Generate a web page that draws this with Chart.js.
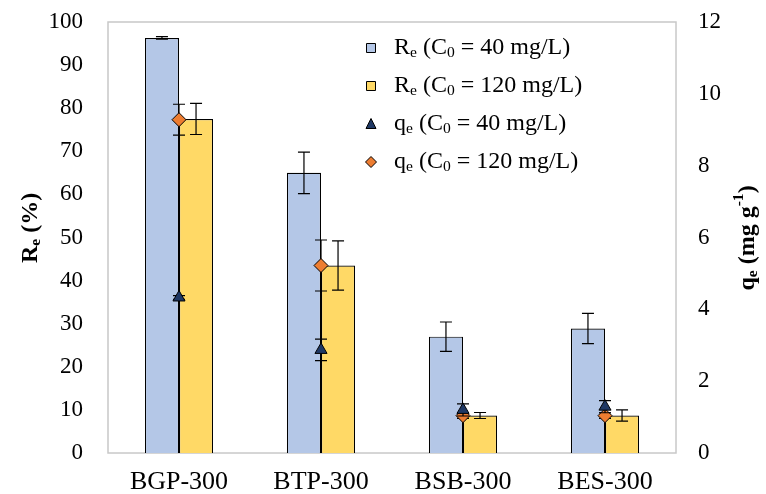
<!DOCTYPE html>
<html>
<head>
<meta charset="utf-8">
<script src="https://cdn.jsdelivr.net/npm/chart.js@4.4.1/dist/chart.umd.min.js"></script>
<style>
  html, body { margin: 0; padding: 0; background: #fff; }
  #wrap { width: 766px; height: 494px; position: relative; }
</style>
</head>
<body>
<div id="wrap"><canvas id="chart" width="766" height="494"></canvas></div>
<script>
// categories and values
const categories = ['BGP-300', 'BTP-300', 'BSB-300', 'BES-300'];
const re40 = [96.3, 65.0, 27.0, 28.9];
const re40Err = [0.3, 4.8, 3.4, 3.5];
const re120 = [77.5, 43.5, 8.7, 8.7];
const re120Err = [3.6, 5.7, 0.7, 1.3];
const qe40 = [4.33, 2.87, 1.2, 1.29];
const qe40Err = [0.05, 0.3, 0.17, 0.17];
const qe120 = [9.28, 5.22, 1.04, 1.04];
const qe120Err = [0.43, 0.71, 0.08, 0.08];
const leftTicks = [0, 10, 20, 30, 40, 50, 60, 70, 80, 90, 100];
const rightTicks = [0, 2, 4, 6, 8, 10, 12];

const SERIF = '"Liberation Serif", "Times New Roman", serif';
const BLUE = '#B4C7E7';
const YELLOW = '#FFD966';
const NAVY = '#1F3864';
const ORANGE = '#ED7D31';

// draws text where parts can be sub/superscript: [[text, 'sub'|'sup'|null], ...]
function richText(ctx, parts, x, y, size, bold) {
  let cx = x;
  parts.forEach(function (p) {
    const small = p[1] ? size * 0.65 : size;
    ctx.font = (bold ? 'bold ' : '') + small + 'px ' + SERIF;
    let dy = 0;
    if (p[1] === 'sub') dy = size * 0.22;
    if (p[1] === 'sup') dy = -size * 0.38;
    ctx.fillText(p[0], cx, y + dy);
    cx += ctx.measureText(p[0]).width;
  });
  return cx - x;
}
function richWidth(ctx, parts, size, bold) {
  let w = 0;
  parts.forEach(function (p) {
    const small = p[1] ? size * 0.65 : size;
    ctx.font = (bold ? 'bold ' : '') + small + 'px ' + SERIF;
    w += ctx.measureText(p[0]).width;
  });
  return w;
}

function drawErr(ctx, x, yTop, yBot, cap) {
  ctx.beginPath();
  ctx.moveTo(x, yTop); ctx.lineTo(x, yBot);
  ctx.moveTo(x - cap, yTop); ctx.lineTo(x + cap, yTop);
  ctx.moveTo(x - cap, yBot); ctx.lineTo(x + cap, yBot);
  ctx.stroke();
}

const errorBars = {
  id: 'errorBars',
  beforeDatasetDraw(chart, args) {
    const ds = chart.data.datasets[args.index];
    if (!ds.errors || ds.type !== 'line') return;
    this.draw(chart, args.meta, ds);
  },
  afterDatasetDraw(chart, args) {
    const ds = chart.data.datasets[args.index];
    if (!ds.errors || ds.type === 'line') return;
    this.draw(chart, args.meta, ds);
  },
  draw(chart, meta, ds) {
    const ctx = chart.ctx;
    const scale = chart.scales[meta.yAxisID];
    ctx.save();
    ctx.strokeStyle = '#000';
    ctx.lineWidth = 1.2;
    meta.data.forEach(function (el, i) {
      const v = ds.data[i], e = ds.errors[i];
      drawErr(ctx, el.x, scale.getPixelForValue(v + e), scale.getPixelForValue(v - e), 6);
    });
    ctx.restore();
  }
};

const decor = {
  id: 'decor',
  beforeDatasetsDraw(chart) {
    const a = chart.chartArea, ctx = chart.ctx;
    ctx.save();
    ctx.strokeStyle = '#c8c8c8';
    ctx.lineWidth = 1.5;
    ctx.strokeRect(a.left, a.top, a.right - a.left, a.bottom - a.top);
    ctx.restore();
  },
  afterDraw(chart) {
    const ctx = chart.ctx;
    ctx.save();
    ctx.fillStyle = '#000';
    ctx.textBaseline = 'middle';
    ctx.textAlign = 'left';

    // left axis title, reads bottom to top
    const lt = [['R', null], ['e', 'sub'], [' (%)', null]];
    ctx.save();
    ctx.translate(31, 228);
    ctx.rotate(-Math.PI / 2);
    richText(ctx, lt, -richWidth(ctx, lt, 24, true) / 2, 0, 24, true);
    ctx.restore();

    // right axis title, reads bottom to top
    const rt = [['q', null], ['e', 'sub'], [' (mg g', null], ['-1', 'sup'], [')', null]];
    ctx.save();
    ctx.translate(748, 238);
    ctx.rotate(-Math.PI / 2);
    richText(ctx, rt, -richWidth(ctx, rt, 24, true) / 2, 0, 24, true);
    ctx.restore();

    // legend
    const rows = [
      { kind: 'box', color: BLUE, parts: [['R', null], ['e', 'sub'], [' (C', null], ['0', 'sub'], [' = 40 mg/L)', null]] },
      { kind: 'box', color: YELLOW, parts: [['R', null], ['e', 'sub'], [' (C', null], ['0', 'sub'], [' = 120 mg/L)', null]] },
      { kind: 'tri', color: NAVY, parts: [['q', null], ['e', 'sub'], [' (C', null], ['0', 'sub'], [' = 40 mg/L)', null]] },
      { kind: 'dia', color: ORANGE, parts: [['q', null], ['e', 'sub'], [' (C', null], ['0', 'sub'], [' = 120 mg/L)', null]] }
    ];
    const lx = 371, tx = 394;
    rows.forEach(function (r, i) {
      const y = 48 + i * 38;
      ctx.fillStyle = r.color;
      ctx.strokeStyle = '#000';
      ctx.lineWidth = 1;
      ctx.beginPath();
      if (r.kind === 'box') {
        ctx.rect(lx - 4.5, y - 4.5, 9, 9);
      } else if (r.kind === 'tri') {
        ctx.moveTo(lx, y - 5.5); ctx.lineTo(lx + 5, y + 4.5); ctx.lineTo(lx - 5, y + 4.5); ctx.closePath();
      } else {
        ctx.moveTo(lx, y - 5.5); ctx.lineTo(lx + 5.5, y); ctx.lineTo(lx, y + 5.5); ctx.lineTo(lx - 5.5, y); ctx.closePath();
      }
      ctx.fill();
      ctx.stroke();
      ctx.fillStyle = '#000';
      richText(ctx, r.parts, tx, y, 24, false);
    });
    ctx.restore();
  }
};

new Chart(document.getElementById('chart'), {
  type: 'bar',
  data: {
    labels: categories,
    datasets: [
      { type: 'line', label: 'qe (C0 = 40 mg/L)', data: qe40, errors: qe40Err, yAxisID: 'y2', order: 0,
        showLine: false, pointStyle: 'triangle', pointRadius: 7, pointBackgroundColor: NAVY,
        pointBorderColor: '#000', pointBorderWidth: 1 },
      { type: 'line', label: 'qe (C0 = 120 mg/L)', data: qe120, errors: qe120Err, yAxisID: 'y2', order: 0,
        showLine: false, pointStyle: 'rectRot', pointRadius: 7, pointBackgroundColor: ORANGE,
        pointBorderColor: '#000', pointBorderWidth: 1 },
      { label: 'Re (C0 = 40 mg/L)', data: re40, errors: re40Err, yAxisID: 'y', order: 1,
        backgroundColor: BLUE, borderColor: '#000', borderWidth: 1.2 },
      { label: 'Re (C0 = 120 mg/L)', data: re120, errors: re120Err, yAxisID: 'y', order: 1,
        backgroundColor: YELLOW, borderColor: '#000', borderWidth: 1.2 }
    ]
  },
  options: {
    responsive: false,
    animation: false,
    layout: { padding: { top: 22, left: 0, right: 0, bottom: 0 } },
    datasets: { bar: { categoryPercentage: 0.48, barPercentage: 1 } },
    plugins: { legend: { display: false }, tooltip: { enabled: false } },
    scales: {
      x: {
        grid: { display: false, drawTicks: false },
        border: { display: false },
        ticks: { color: '#000', padding: 14, font: { family: SERIF, size: 26 } },
        afterFit(s) { s.height = 41; s.paddingLeft = 0; s.paddingRight = 0; }
      },
      y: {
        position: 'left', min: 0, max: 100,
        grid: { display: false, drawTicks: false },
        border: { display: false },
        afterBuildTicks(s) { s.ticks = leftTicks.map(v => ({ value: v })); },
        ticks: { color: '#000', padding: 25, font: { family: SERIF, size: 23 } },
        afterFit(s) { s.width = 108; s.paddingTop = 0; s.paddingBottom = 0; }
      },
      y2: {
        position: 'right', min: 0, max: 12,
        grid: { display: false, drawTicks: false },
        border: { display: false },
        afterBuildTicks(s) { s.ticks = rightTicks.map(v => ({ value: v })); },
        ticks: { color: '#000', padding: 22, font: { family: SERIF, size: 23 } },
        afterFit(s) { s.width = 90; s.paddingTop = 0; s.paddingBottom = 0; }
      }
    }
  },
  plugins: [errorBars, decor]
});
</script>
</body>
</html>
